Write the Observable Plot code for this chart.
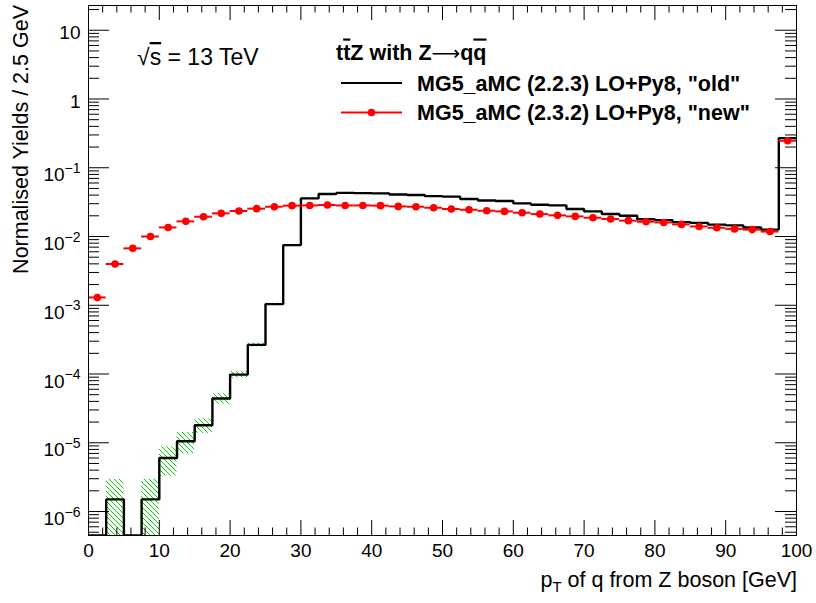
<!DOCTYPE html>
<html><head><meta charset="utf-8">
<script src="https://cdn.jsdelivr.net/npm/d3@7"></script>
<script src="https://cdn.jsdelivr.net/npm/@observablehq/plot@0.6"></script>
<style>body{margin:0;background:#fff} svg{display:block}</style>
</head><body><div id="chart"></div>
<script>
// ---- data (bins of 2.5 GeV) ----
const binLow = [0,2.5,5,7.5,10,12.5,15,17.5,20,22.5,25,27.5,30,32.5,35,37.5,40,42.5,45,47.5,
                50,52.5,55,57.5,60,62.5,65,67.5,70,72.5,75,77.5,80,82.5,85,87.5,90,92.5,95,97.5];
const binWidth = 2.5;
// MG5_aMC (2.2.3) LO+Py8 "old" (black histogram)
const oldYield = [0,1.5e-6,0,1.5e-6,6.0e-6,1.05e-5,1.8e-5,4.4e-5,9.8e-5,2.65e-4,
                  1.04e-3,7.5e-3,0.0358,0.0415,0.0431,0.0428,0.0424,0.0408,0.0402,0.0386,
                  0.0380,0.0351,0.0334,0.0328,0.0303,0.0290,0.0284,0.0251,0.0232,0.0212,
                  0.0200,0.0178,0.0173,0.0162,0.0158,0.0149,0.0145,0.01355,0.0126,0.27];
// statistical uncertainty on "old" (green hatched band)
const oldErr = [0,1.45e-6,0,1.45e-6,2.7e-6,3.6e-6,4.3e-6,7.5e-6,1.1e-5,1.8e-5,
                3.5e-5,1.0e-4,2.2e-4,2.3e-4,2.3e-4,2.3e-4,2.3e-4,2.2e-4,2.2e-4,2.1e-4,
                2.1e-4,2.0e-4,1.9e-4,1.9e-4,1.8e-4,1.8e-4,1.7e-4,1.6e-4,1.6e-4,1.5e-4,
                1.5e-4,1.4e-4,1.4e-4,1.3e-4,1.3e-4,1.3e-4,1.2e-4,1.2e-4,1.1e-4,5.0e-4];
// MG5_aMC (2.3.2) LO+Py8 "new" (red points)
const newYield = [1.30e-3,3.98e-3,6.72e-3,1.00e-2,1.355e-2,1.66e-2,1.94e-2,2.17e-2,2.35e-2,2.54e-2,
                  2.71e-2,2.81e-2,2.83e-2,2.87e-2,2.83e-2,2.83e-2,2.81e-2,2.74e-2,2.71e-2,2.62e-2,
                  2.51e-2,2.45e-2,2.37e-2,2.32e-2,2.22e-2,2.12e-2,2.03e-2,1.96e-2,1.875e-2,1.80e-2,
                  1.70e-2,1.64e-2,1.60e-2,1.50e-2,1.40e-2,1.34e-2,1.29e-2,1.26e-2,1.18e-2,0.247];
const xTickValues = [0,10,20,30,40,50,60,70,80,90,100];
const xTickLabels = ["0","10","20","30","40","50","60","70","80","90","100"];
const yTickValues = [1e-6,1e-5,1e-4,1e-3,1e-2,1e-1,1,10];
const yTickLabels = ["10^−6","10^−5","10^−4","10^−3","10^−2","10^−1","1","10"];

// ---- layout ----
const W = 816, H = 603, mL = 88, mR = 20, mT = 5, mB = 68;
const fw = W - mL - mR, fh = H - mT - mB;
const yDomain = [4.48e-7, 22.9];
const xDomain = [0, 100];
const HATCH_KEY = "#00cc01";

const bins = binLow.map((lo, i) => ({lo, hi: lo + binWidth, c: lo + binWidth / 2,
  old: oldYield[i], err: oldErr[i], nw: newYield[i]}));
const clampY = v => Math.max(v, yDomain[0]);
const stepPts = bins.map(d => ({x: d.lo, y: clampY(d.old)}))
  .concat([{x: bins[bins.length - 1].hi, y: clampY(bins[bins.length - 1].old)}]);

const allYTicks = d3.scaleLog().domain(yDomain).ticks();
const yMinor = allYTicks.filter(t => Math.abs(Math.log10(t) - Math.round(Math.log10(t))) > 1e-6);
const xMinor = d3.range(0, 101, 2).filter(v => v % 10 !== 0);

const svg = Plot.plot({
  width: W, height: H,
  marginLeft: mL, marginRight: mR, marginTop: mT, marginBottom: mB,
  x: {domain: xDomain},
  y: {type: "log", domain: yDomain},
  style: {fontFamily: "'Liberation Sans', Arial, Helvetica, sans-serif", fontSize: "19px", color: "black", background: "white"},
  marks: [
    Plot.rect(bins.filter(d => d.err > 0), {x1: "lo", x2: "hi",
      y1: d => clampY(d.old - d.err), y2: d => d.old + d.err,
      fill: HATCH_KEY, clip: true}),
    Plot.line(stepPts, {x: "x", y: "y", curve: "step-after", stroke: "black", strokeWidth: 2.4,
      strokeLinejoin: "miter", strokeLinecap: "butt", clip: true}),
    Plot.ruleY(bins, {x1: "lo", x2: "hi", y: "nw", stroke: "#ff0000", strokeWidth: 2}),
    Plot.dot(bins, {x: "c", y: "nw", r: 3.8, fill: "#ff0000", stroke: null}),
    Plot.frame({stroke: "black", strokeWidth: 1}),
    // inward ROOT-style ticks on all four sides
    Plot.tickY(yTickValues, {y: d => d, insetRight: fw - 21, stroke: "black"}),
    Plot.tickY(yTickValues, {y: d => d, insetLeft: fw - 21, stroke: "black"}),
    Plot.tickY(yMinor, {y: d => d, insetRight: fw - 11, stroke: "black"}),
    Plot.tickY(yMinor, {y: d => d, insetLeft: fw - 11, stroke: "black"}),
    Plot.tickX(xTickValues, {x: d => d, insetTop: fh - 15, stroke: "black"}),
    Plot.tickX(xTickValues, {x: d => d, insetBottom: fh - 15, stroke: "black"}),
    Plot.tickX(xMinor, {x: d => d, insetTop: fh - 7.5, stroke: "black"}),
    Plot.tickX(xMinor, {x: d => d, insetBottom: fh - 7.5, stroke: "black"}),
    Plot.axisY({ticks: yTickValues, tickSize: 0, tickPadding: 8, label: null,
      tickFormat: d => yTickLabels[yTickValues.indexOf(d)]}),
    Plot.axisX({ticks: xTickValues, tickSize: 0, tickPadding: 8, label: null,
      tickFormat: d => xTickLabels[xTickValues.indexOf(d)]})
  ]
});

// ---- post-processing: hatch pattern, superscripts, titles, legend ----
const ns = "http://www.w3.org/2000/svg";
const defs = document.createElementNS(ns, "defs");
const pat = document.createElementNS(ns, "pattern");
pat.setAttribute("id", "hatch");
pat.setAttribute("patternUnits", "userSpaceOnUse");
pat.setAttribute("width", "5");
pat.setAttribute("height", "5");
const pp = document.createElementNS(ns, "path");
pp.setAttribute("d", "M-1,-1L6,6M-1,4L1,6M4,-1L6,1");
pp.setAttribute("stroke", "#00d400");
pp.setAttribute("stroke-width", "1");
pp.setAttribute("fill", "none");
pat.appendChild(pp); defs.appendChild(pat);
svg.insertBefore(defs, svg.firstChild);
svg.querySelectorAll(`[fill="${HATCH_KEY}"]`).forEach(el => el.setAttribute("fill", "url(#hatch)"));

svg.querySelectorAll('g[aria-label="y-axis tick label"] text').forEach(t => {
  const s = t.textContent;
  const m = s.match(/^10\^(.+)$/);
  if (m) {
    t.setAttribute("y", "13.5");
    t.textContent = "";
    const a = document.createElementNS(ns, "tspan"); a.textContent = "10";
    const b = document.createElementNS(ns, "tspan"); b.textContent = m[1];
    b.setAttribute("dy", "-8.5"); b.setAttribute("font-size", "14");
    t.appendChild(a); t.appendChild(b);
  } else {
    t.setAttribute("y", "9");
  }
});

const ann = document.createElementNS(ns, "g");
ann.setAttribute("fill", "black");
ann.setAttribute("text-anchor", "start");
ann.innerHTML = `
<text transform="translate(28,5) rotate(-90)" text-anchor="end" font-size="21.5">Normalised Yields / 2.5 GeV</text>
<text x="797" y="587" text-anchor="end" font-size="21.5">p<tspan font-size="15" dy="5">T</tspan><tspan dy="-5"> of q from Z boson [GeV]</tspan></text>
<text x="137" y="65" font-size="23">√<tspan style="text-decoration:overline">s</tspan> = 13 TeV</text>
<text x="336" y="59.5" font-size="21.5" font-weight="bold">t<tspan style="text-decoration:overline">t</tspan>Z with Z<tspan font-weight="normal" font-family="DejaVu Sans" font-size="20">⟶</tspan>q<tspan style="text-decoration:overline">q</tspan></text>
<line x1="341" x2="402" y1="83" y2="83" stroke="black" stroke-width="2"/>
<text x="417" y="90.5" font-size="21.5" font-weight="bold">MG5_aMC (2.2.3) LO+Py8, "old"</text>
<line x1="341" x2="402" y1="112.5" y2="112.5" stroke="#ff0000" stroke-width="2"/>
<circle cx="371.5" cy="112.5" r="3.8" fill="#ff0000"/>
<text x="417" y="120" font-size="21.5" font-weight="bold">MG5_aMC (2.3.2) LO+Py8, "new"</text>`;
svg.appendChild(ann);

document.getElementById("chart").appendChild(svg);
</script>
</body></html>
